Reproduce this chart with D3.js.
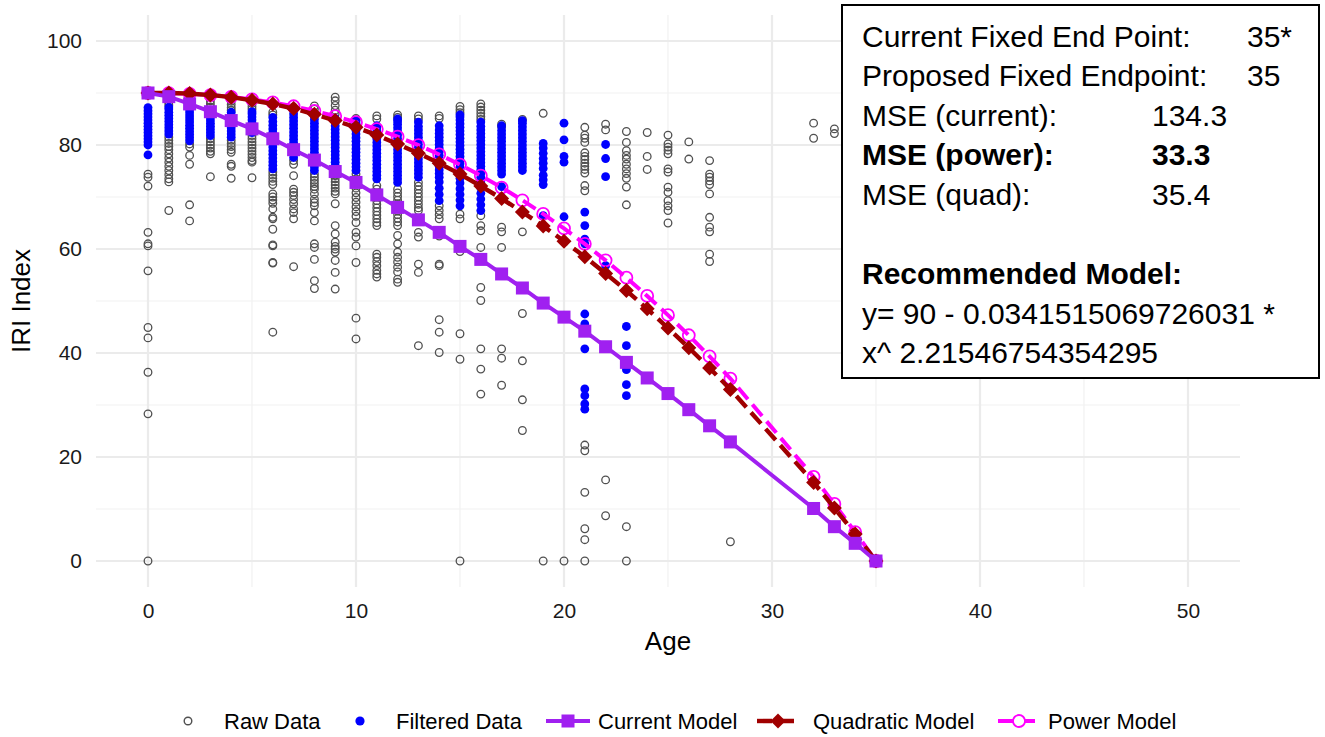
<!DOCTYPE html>
<html>
<head>
<meta charset="utf-8">
<script src="https://cdn.jsdelivr.net/npm/d3@7"></script>
<style>
  html, body { margin: 0; padding: 0; background: #fff; }
  svg { display: block; font-family: "Liberation Sans", Arial, sans-serif; }
</style>
</head>
<body>
<svg id="chart" width="1325" height="737"></svg>
<script>
// ---------------- DATA ----------------
const xTicks = [0, 10, 20, 30, 40, 50];
const yTicks = [0, 20, 40, 60, 80, 100];
const xMinor = [5, 15, 25, 35, 45];
const yMinor = [10, 30, 50, 70, 90];

// Raw data (grey open circles), one list of IRI values per age
const rawAges = [0,1,2,3,4,5,6,7,8,9,10,11,12,13,14,15,16,17,18,19,20,21,22,23,24,25,26,27,28,32,33];
const rawValues = [
  [0, 28.3, 36.3, 42.9, 44.9, 55.8, 60.6, 61.0, 63.2, 72.1, 73.8, 74.4],
  [67.4, 72.9, 73.5, 74.3, 75.1, 75.9, 76.7, 77.5, 78.3, 79.1, 79.7, 80.3, 80.9, 81.5, 87.7, 88.2, 88.8],
  [65.4, 68.5, 76.3, 78.0, 79.6, 80.2, 87.4, 88.0, 88.6],
  [73.9, 78.3, 78.8, 79.4, 80.0, 80.6, 81.2, 86.7, 87.3, 87.9, 88.5],
  [73.6, 75.9, 76.3, 78.6, 79.1, 79.7, 80.3, 80.9, 86.7, 87.2, 87.8, 88.4],
  [73.7, 76.7, 77.0, 77.6, 78.2, 78.8, 79.4, 80.0, 80.6, 81.2, 81.8, 86.9, 87.4, 88.0],
  [44.0, 57.3, 57.4, 60.6, 60.8, 63.8, 65.8, 66.1, 67.7, 68.8, 69.4, 70.0, 70.6, 72.4, 73.0, 73.6, 74.2, 74.8, 85.8, 86.3],
  [56.6, 65.8, 67.0, 67.7, 68.7, 69.5, 70.3, 70.9, 71.5, 74.1, 76.3, 77.0, 86.7, 87.3],
  [52.4, 53.9, 58.0, 60.3, 61.0, 65.4, 67.0, 68.3, 68.9, 69.6, 70.6, 71.5, 72.0, 72.6, 73.2, 73.8, 74.4, 86.9, 87.5],
  [52.3, 55.5, 57.8, 59.4, 60.0, 60.5, 61.3, 62.9, 64.5, 68.7, 70.6, 71.1, 71.7, 72.3, 72.9, 73.5, 74.1, 86.0, 86.7, 87.6, 88.5, 89.2],
  [42.7, 46.7, 57.4, 60.6, 62.3, 63.2, 65.1, 66.3, 67.2, 68.1, 69.0, 69.9, 70.8, 71.7, 72.6, 73.5, 74.4, 84.8, 85.1],
  [54.6, 55.2, 55.9, 56.8, 57.6, 58.4, 59.0, 64.5, 65.1, 65.8, 66.5, 67.2, 67.9, 68.6, 69.3, 70.0, 70.8, 71.5, 72.2, 85.0, 85.6],
  [53.6, 54.2, 55.6, 56.5, 57.5, 58.4, 59.4, 61.0, 62.6, 64.5, 65.2, 65.9, 66.6, 67.3, 68.0, 68.7, 69.4, 70.1, 70.8, 71.5, 85.3, 85.8],
  [41.4, 55.5, 57.1, 62.3, 63.2, 65.8, 67.4, 67.9, 68.6, 69.3, 70.0, 70.7, 71.4, 72.1, 72.8, 85.0, 85.6],
  [40.1, 44.0, 46.4, 56.8, 57.1, 62.5, 63.2, 65.8, 66.6, 67.4, 68.3, 85.1, 85.6],
  [0, 38.8, 43.7, 59.5, 65.8, 66.7, 86.2, 86.8, 87.4],
  [32.1, 36.9, 40.8, 50.1, 52.6, 60.3, 63.5, 64.5, 66.4, 84.9, 85.5, 86.1, 86.7, 87.3, 87.9],
  [33.8, 39.0, 40.8, 60.3, 63.3, 64.2, 83.5, 84.0],
  [25.1, 31.0, 38.5, 47.6, 63.3, 84.9],
  [0, 86.1],
  [0],
  [0, 4.1, 6.2, 13.2, 21.2, 22.3, 71.2, 72.2, 74.6, 75.3, 75.9, 76.5, 77.2, 77.8, 78.5, 80.5, 81.3, 81.9, 83.4],
  [8.7, 15.6, 82.9, 84.0],
  [0, 6.6, 68.5, 71.9, 73.6, 74.5, 75.4, 76.3, 77.3, 78.0, 78.9, 80.5, 82.6],
  [75.3, 77.8, 82.4],
  [65.0, 67.4, 68.3, 69.3, 70.9, 71.9, 74.8, 75.4, 78.3, 79.0, 79.6, 80.2, 81.9],
  [77.3, 80.6],
  [57.6, 59.0, 63.3, 64.2, 66.1, 70.6, 72.4, 73.1, 73.8, 74.4, 77.0],
  [3.7],
  [81.3, 84.2],
  [82.2, 83.1]
];

// Filtered data (blue dots), one list per age
const filteredAges = [0,1,2,3,4,5,6,7,8,9,10,11,12,13,14,15,16,17,18,19,20,21,22,23];
const filteredValues = [
  [78.1, 80.0, 80.6, 81.2, 81.8, 82.4, 83.0, 83.6, 84.2, 84.8, 85.4, 86.0, 86.6, 87.2],
  [82.1, 82.7, 83.3, 83.9, 84.5, 85.1, 85.7, 86.3, 86.9, 87.3],
  [80.8, 81.4, 82.0, 82.6, 83.2, 83.8, 84.4, 85.0, 85.6, 86.2, 86.8],
  [81.8, 82.4, 83.0, 83.6, 84.2, 84.8, 85.4, 86.0],
  [81.5, 82.1, 82.7, 83.3, 83.9, 84.5, 85.1, 85.7, 86.3],
  [82.4, 83.0, 83.6, 84.2, 84.8, 85.4, 86.0, 86.4],
  [75.4, 76.1, 76.8, 77.5, 78.2, 78.9, 79.6, 80.3, 81.0, 81.7, 82.4, 83.1, 83.8, 84.5, 85.3],
  [77.6, 78.3, 79.0, 79.7, 80.4, 81.1, 81.8, 82.5, 83.2, 83.9, 84.6, 85.3, 86.0],
  [75.1, 75.8, 76.5, 77.2, 77.9, 78.6, 79.3, 80.0, 80.7, 81.4, 82.1, 82.8, 83.5, 84.2, 84.9, 85.5, 86.0],
  [76.0, 76.7, 77.4, 78.1, 78.8, 79.5, 80.2, 80.9, 81.6, 82.3, 83.0, 83.7, 84.4, 85.1],
  [75.1, 75.8, 76.5, 77.2, 77.9, 78.6, 79.3, 80.0, 80.7, 81.4, 82.1, 82.8, 83.5, 84.2, 84.7],
  [73.5, 74.2, 74.9, 75.6, 76.3, 77.0, 77.7, 78.4, 79.1, 79.8, 80.5, 81.2, 81.9, 82.6, 83.3, 83.7],
  [72.8, 73.5, 74.2, 74.9, 75.6, 76.3, 77.0, 77.7, 78.4, 79.1, 79.8, 80.5, 81.2, 81.9, 82.6, 83.3, 84.0, 84.6, 85.0],
  [73.8, 74.5, 75.2, 75.9, 76.6, 77.3, 78.0, 78.7, 79.4, 80.1, 80.8, 81.5, 82.2, 82.9, 83.6, 84.4],
  [69.3, 70.5, 71.7, 72.9, 73.8, 74.5, 75.2, 75.9, 76.6, 77.3, 78.0, 78.7, 79.4, 80.1, 80.8, 81.5, 82.2, 82.9, 83.7],
  [68.3, 69.4, 70.5, 71.6, 72.7, 73.6, 74.3, 75.0, 75.7, 76.4, 77.1, 77.8, 78.5, 79.2, 79.9, 80.6, 81.3, 82.0, 82.7, 83.4, 84.1, 84.8, 85.4, 85.8],
  [67.4, 68.5, 69.6, 70.7, 71.8, 72.9, 73.8, 74.5, 75.2, 75.9, 76.6, 77.3, 78.0, 78.7, 79.4, 80.1, 80.8, 81.5, 82.2, 82.9, 83.6, 84.4],
  [72.0, 74.4, 75.1, 75.8, 76.5, 77.2, 77.9, 78.6, 79.3, 80.0, 80.7, 81.4, 82.1, 82.8, 83.7],
  [75.1, 75.8, 76.5, 77.2, 77.9, 78.6, 79.3, 80.0, 80.7, 81.4, 82.1, 82.8, 83.5, 84.2, 84.7],
  [66.4, 72.4, 73.3, 74.2, 75.5, 76.5, 77.4, 78.4, 79.4, 80.3],
  [66.2, 76.7, 77.8, 81.0, 84.2],
  [29.2, 30.2, 31.8, 33.1, 40.8, 45.6, 47.5, 61.0, 61.9, 64.5, 67.1],
  [56.8, 73.9, 77.4, 80.1],
  [31.8, 33.9, 36.8, 41.4, 45.1]
];

// Model curves
const modelAges    = [0,1,2,3,4,5,6,7,8,9,10,11,12,13,14,15,16,17,18,19,20,21,22,23,24,25,26,27,28,32,33,34,35];
const currentModel = [90, 89.3, 87.9, 86.4, 84.7, 83.1, 81.2, 79.1, 77.1, 74.9, 72.8, 70.4, 68.0, 65.6, 63.2, 60.5, 58.0, 55.2, 52.5, 49.6, 46.9, 44.2, 41.2, 38.2, 35.2, 32.2, 29.1, 26.0, 22.9, 10.1, 6.6, 3.4, 0];
const quadModel    = [90, 90.0, 89.9, 89.6, 89.2, 88.6, 87.9, 87.0, 85.9, 84.7, 83.4, 81.9, 80.2, 78.4, 76.5, 74.4, 72.1, 69.7, 67.1, 64.4, 61.5, 58.5, 55.3, 52.0, 48.5, 44.8, 41.0, 37.1, 33.0, 15.1, 10.2, 5.2, 0];
const powerModel   = [90, 89.97, 89.84, 89.61, 89.26, 88.79, 88.19, 87.45, 86.58, 85.56, 84.39, 83.07, 81.60, 79.97, 78.18, 76.23, 74.11, 71.82, 69.37, 66.74, 63.95, 60.97, 57.82, 54.49, 50.97, 47.28, 43.41, 39.35, 35.09, 16.18, 10.97, 5.56, 0];

const legendLabels = ["Raw Data", "Filtered Data", "Current Model", "Quadratic Model", "Power Model"];

const boxLabels = ["Current Fixed End Point:", "Proposed Fixed Endpoint:", "MSE (current):", "MSE (power):", "MSE (quad):", "", "Recommended Model:", "y= 90 - 0.0341515069726031 *", "x^ 2.21546754354295"];
const boxValues = ["35*", "35", "134.3", "33.3", "35.4", "", "", "", ""];
const boxBold   = [false, false, false, true, false, false, true, false, false];

// ---------------- DRAWING ----------------
const svg = d3.select("#chart");
const C = { purple: "#a020f0", dred: "#a00000", mag: "#ff00ff", blue: "#0000ff", raw: "#505050" };

const panel = { l: 96, r: 1240, t: 15, b: 587 };
const x = d3.scaleLinear().domain([-2.5, 52.5]).range([panel.l, panel.r]);
const y = d3.scaleLinear().domain([-5, 105]).range([panel.b, panel.t]);

svg.append("rect").attr("width", 1325).attr("height", 737).attr("fill", "#fff");

// grid
const grid = svg.append("g");
grid.selectAll(".vmin").data(xMinor).join("line")
  .attr("x1", d => x(d)).attr("x2", d => x(d)).attr("y1", panel.t).attr("y2", panel.b)
  .attr("stroke", "#f1f1f1").attr("stroke-width", 1.2);
grid.selectAll(".hmin").data(yMinor).join("line")
  .attr("y1", d => y(d)).attr("y2", d => y(d)).attr("x1", panel.l).attr("x2", panel.r)
  .attr("stroke", "#f1f1f1").attr("stroke-width", 1.2);
grid.selectAll(".vmaj").data(xTicks).join("line")
  .attr("x1", d => x(d)).attr("x2", d => x(d)).attr("y1", panel.t).attr("y2", panel.b)
  .attr("stroke", "#ebebeb").attr("stroke-width", 2.2);
grid.selectAll(".hmaj").data(yTicks).join("line")
  .attr("y1", d => y(d)).attr("y2", d => y(d)).attr("x1", panel.l).attr("x2", panel.r)
  .attr("stroke", "#ebebeb").attr("stroke-width", 2.2);

// axes
const xAxis = svg.append("g").attr("transform", `translate(0,${panel.b})`)
  .call(d3.axisBottom(x).tickValues(xTicks).tickSize(0).tickPadding(16));
const yAxis = svg.append("g").attr("transform", `translate(${panel.l},0)`)
  .call(d3.axisLeft(y).tickValues(yTicks).tickSize(0).tickPadding(14));
[xAxis, yAxis].forEach(a => {
  a.select(".domain").remove();
  a.selectAll("text").attr("font-size", 21).attr("fill", "#1a1a1a")
    .attr("font-family", "'Liberation Sans', Arial, sans-serif");
});

svg.append("text").attr("x", x(25)).attr("y", 650).attr("text-anchor", "middle")
  .attr("font-size", 26).attr("fill", "#000").text("Age");
svg.append("text").attr("transform", `translate(30,${y(50)}) rotate(-90)`).attr("text-anchor", "middle")
  .attr("font-size", 26).attr("fill", "#000").text("IRI Index");

// raw points
const rawPts = rawAges.flatMap((a, i) => rawValues[i].map(v => ({ a, v })));
svg.append("g").selectAll("circle").data(rawPts).join("circle")
  .attr("cx", d => x(d.a)).attr("cy", d => y(d.v)).attr("r", 3.8)
  .attr("fill", "none").attr("stroke", C.raw).attr("stroke-width", 1.3);

// filtered points
const filtPts = filteredAges.flatMap((a, i) => filteredValues[i].map(v => ({ a, v })));
svg.append("g").selectAll("circle").data(filtPts).join("circle")
  .attr("cx", d => x(d.a)).attr("cy", d => y(d.v)).attr("r", 4.4)
  .attr("fill", C.blue);

const line = d3.line().x(d => x(d.a)).y(d => y(d.v));
const series = vals => modelAges.map((a, i) => ({ a, v: vals[i] }));

const diamond = (cx, cy, s) => `M${cx},${cy - s}L${cx + s},${cy}L${cx},${cy + s}L${cx - s},${cy}Z`;

// power model
const pw = series(powerModel);
svg.append("path").datum(pw).attr("d", line).attr("fill", "none")
  .attr("stroke", C.mag).attr("stroke-width", 4).attr("stroke-dasharray", "15 7");
svg.append("g").selectAll("circle").data(pw).join("circle")
  .attr("cx", d => x(d.a)).attr("cy", d => y(d.v)).attr("r", 6)
  .attr("fill", "none").attr("stroke", C.mag).attr("stroke-width", 1.8);

// quadratic model
const qd = series(quadModel);
svg.append("path").datum(qd).attr("d", line).attr("fill", "none")
  .attr("stroke", C.dred).attr("stroke-width", 4.4).attr("stroke-dasharray", "15 7");
svg.append("g").selectAll("path").data(qd).join("path")
  .attr("d", d => diamond(x(d.a), y(d.v), 7.5)).attr("fill", C.dred);

// current model
const cm = series(currentModel);
svg.append("path").datum(cm).attr("d", line).attr("fill", "none")
  .attr("stroke", C.purple).attr("stroke-width", 4);
svg.append("g").selectAll("rect").data(cm).join("rect")
  .attr("x", d => x(d.a) - 6.5).attr("y", d => y(d.v) - 6.5).attr("width", 13).attr("height", 13)
  .attr("fill", C.purple);

// legend
const lg = svg.append("g");
const ly = 721;
const keyX = [188, 360, 568, 778, 1019];
const txtX = [224, 396, 598, 813, 1048];
lg.append("circle").attr("cx", keyX[0]).attr("cy", ly).attr("r", 3.8).attr("fill", "none").attr("stroke", C.raw).attr("stroke-width", 1.4);
lg.append("circle").attr("cx", keyX[1]).attr("cy", ly).attr("r", 4.6).attr("fill", C.blue);
lg.append("line").attr("x1", keyX[2] - 22).attr("x2", keyX[2] + 22).attr("y1", ly).attr("y2", ly).attr("stroke", C.purple).attr("stroke-width", 4);
lg.append("rect").attr("x", keyX[2] - 6.5).attr("y", ly - 6.5).attr("width", 13).attr("height", 13).attr("fill", C.purple);
lg.append("line").attr("x1", keyX[3] - 21).attr("x2", keyX[3] + 21).attr("y1", ly).attr("y2", ly).attr("stroke", C.dred).attr("stroke-width", 4.4).attr("stroke-dasharray", "15 7");
lg.append("path").attr("d", diamond(keyX[3], ly, 7.5)).attr("fill", C.dred);
lg.append("line").attr("x1", keyX[4] - 21).attr("x2", keyX[4] + 21).attr("y1", ly).attr("y2", ly).attr("stroke", C.mag).attr("stroke-width", 4).attr("stroke-dasharray", "15 7");
lg.append("circle").attr("cx", keyX[4]).attr("cy", ly).attr("r", 6).attr("fill", "#fff").attr("stroke", C.mag).attr("stroke-width", 1.8);
lg.selectAll("text").data(legendLabels).join("text")
  .attr("x", (d, i) => txtX[i]).attr("y", ly).attr("dy", "0.35em")
  .attr("font-size", 22).attr("fill", "#000").text(d => d);

// annotation box
const box = svg.append("g");
box.append("rect").attr("x", 842).attr("y", 5).attr("width", 477).attr("height", 373)
  .attr("fill", "#fff").attr("stroke", "#000").attr("stroke-width", 2);
const valX = [1247, 1247, 1152, 1152, 1152, 0, 0, 0, 0];
boxLabels.forEach((t, i) => {
  if (!t) return;
  const by = 46.5 + i * 39.6;
  box.append("text").attr("x", 862).attr("y", by).attr("font-size", 30)
    .attr("font-weight", boxBold[i] ? "bold" : "normal").attr("fill", "#000").text(t);
  if (boxValues[i]) {
    box.append("text").attr("x", valX[i]).attr("y", by).attr("font-size", 30)
      .attr("font-weight", boxBold[i] ? "bold" : "normal").attr("fill", "#000").text(boxValues[i]);
  }
});
</script>
</body>
</html>
